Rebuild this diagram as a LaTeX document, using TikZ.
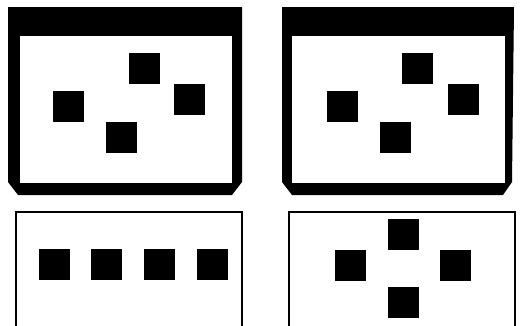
\documentclass[tikz,border=0pt]{standalone}
\begin{document}
\begin{tikzpicture}[x=1pt,y=-1pt,
  sq/.style={fill=black,draw=none,inner sep=0pt,minimum size=31pt},
  frame/.style={draw=black,line width=1.2pt}]
\useasboundingbox (0,0) rectangle (521,325);
\clip (0,0) rectangle (521,325);
% window 1
\fill[black] (8,7) -- (242,7) -- (242,182) -- (232,195) -- (18,195) -- (8,182) -- cycle;
\fill[white] (20,36) rectangle (232,183);
\node[sq] (a1) at (68.5,106.5) {};
\node[sq] (a2) at (144,68.5) {};
\node[sq] (a3) at (189,99) {};
\node[sq] (a4) at (121.5,137) {};
% window 2
\fill[black] (282,7) -- (514,7) -- (512,182) -- (503,195) -- (292,195) -- (282,182) -- cycle;
\fill[white] (292,36) rectangle (505,183);
\node[sq] (b1) at (342.5,106.5) {};
\node[sq] (b2) at (417.5,68.5) {};
\node[sq] (b3) at (463.5,99) {};
\node[sq] (b4) at (395.5,137) {};
% bottom left
\draw[frame] (16,330) -- (16,212) -- (242,212) -- (242,330);
\node[sq] (c1) at (54,264.5) {};
\node[sq] (c2) at (106.5,264.5) {};
\node[sq] (c3) at (159.5,264.5) {};
\node[sq] (c4) at (212.5,264.5) {};
% bottom right
\draw[frame] (289,330) -- (289,212) -- (515,212) -- (515,330);
\node[sq] (d1) at (350,265) {};
\node[sq] (d2) at (403,234.5) {};
\node[sq] (d3) at (455.5,265) {};
\node[sq] (d4) at (403,302.5) {};
\end{tikzpicture}
\end{document}
